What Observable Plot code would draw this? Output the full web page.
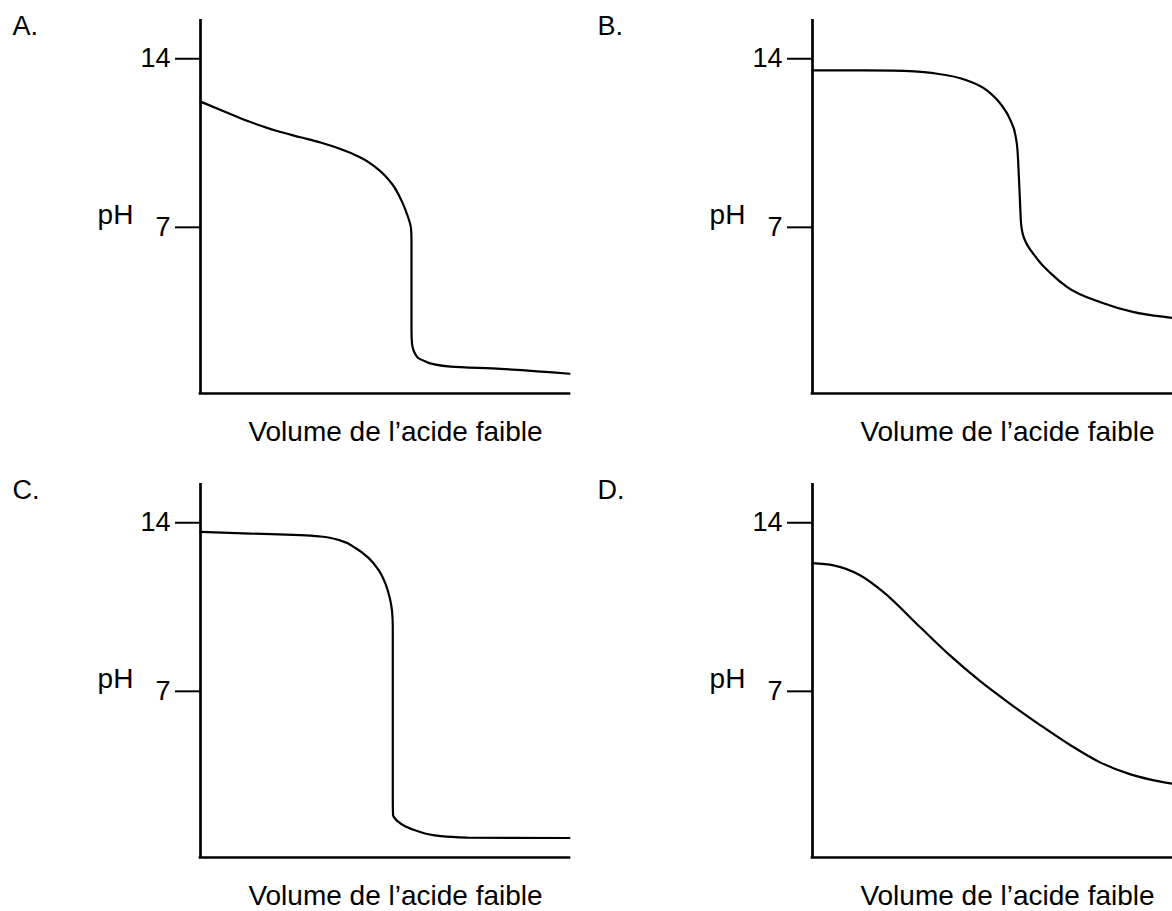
<!DOCTYPE html>
<html>
<head>
<meta charset="utf-8">
<script src="https://cdn.jsdelivr.net/npm/d3@7"></script>
<script src="https://cdn.jsdelivr.net/npm/@observablehq/plot@0.6"></script>
<style>
html, body { margin: 0; padding: 0; background: #fff; overflow: hidden; }
#wrap { position: relative; width: 1172px; height: 911px; overflow: hidden; background: #fff; }
.panel { position: absolute; width: 612px; height: 464px; }
</style>
</head>
<body>
<div id="wrap"></div>
<script>
// ---- texts ----
const panelLabels = ["A.", "B.", "C.", "D."];
const yTicks = [7, 14];
const yLabel = "pH";
const xLabel = "Volume de l\u2019acide faible";

// ---- series (volume in arbitrary units 0–100, pH) ----
const volA = [0, 6.78, 13.55, 20.33, 27.10, 32.52, 37.94, 43.36, 48.24, 52.03, 54.47, 56.10, 57.05, 57.18, 57.18, 57.32, 58.73, 60.98, 63.14, 67.75, 81.30, 100];
const phA  = [12.22, 11.79, 11.37, 11.02, 10.74, 10.52, 10.25, 9.90, 9.40, 8.78, 8.11, 7.49, 6.95, 6.45, 2.72, 2.18, 1.61, 1.43, 1.32, 1.22, 1.12, 0.92];

const volB = [0, 10.30, 21.95, 32.79, 41.92, 47.34, 50.95, 53.66, 55.01, 55.56, 56.10, 56.50, 56.78, 57.32, 58.27, 59.62, 61.79, 64.50, 69.02, 78.05, 87.07, 97.48, 100];
const phB  = [13.52, 13.52, 13.51, 13.40, 13.10, 12.68, 12.13, 11.44, 10.81, 10.19, 8.53, 7.20, 6.87, 6.56, 6.25, 5.95, 5.52, 5.10, 4.52, 3.89, 3.48, 3.24, 3.19];

const volC = [0, 13.55, 27.10, 32.52, 37.94, 42.01, 45.53, 48.24, 50.14, 51.36, 51.90, 52.11, 52.11, 52.17, 53.31, 55.56, 58.73, 65.04, 72.28, 100];
const phC  = [13.62, 13.55, 13.49, 13.43, 13.26, 12.95, 12.54, 12.04, 11.46, 10.83, 10.34, 9.71, 2.45, 1.89, 1.62, 1.39, 1.20, 0.99, 0.925, 0.91];

const volD = [0, 5.69, 13.01, 19.24, 29.27, 37.40, 45.53, 53.66, 61.79, 69.92, 78.05, 86.18, 94.31, 100];
const phD  = [12.32, 12.23, 11.81, 11.12, 9.65, 8.47, 7.41, 6.47, 5.59, 4.76, 4.04, 3.55, 3.25, 3.11];

// ---- layout ----
const FONT = "'Liberation Sans', Arial, Helvetica, sans-serif";
const FS = 27;
const FS_LABEL = 28;
const panels = [
  {label: panelLabels[0], vol: volA, ph: phA, curve: "monotone-y", left: 0,   top: 0,     labelDx: -188},
  {label: panelLabels[1], vol: volB, ph: phB, curve: "monotone-x", left: 612, top: 0,     labelDx: -215},
  {label: panelLabels[2], vol: volC, ph: phC, curve: "monotone-y", left: 0,   top: 463.5, labelDx: -188},
  {label: panelLabels[3], vol: volD, ph: phD, curve: "monotone-x", left: 612, top: 463.5, labelDx: -215}
];

const wrap = document.getElementById("wrap");
for (const p of panels) {
  const data = p.vol.map((v, i) => ({vol: v, ph: p.ph[i]}));
  const chart = Plot.plot({
    width: 612,
    height: 464,
    marginLeft: 200,
    marginRight: 43,
    marginTop: 19,
    marginBottom: 71,
    x: {domain: [0, 100], axis: null},
    y: {domain: [0.1, 15.63], axis: null},
    style: {maxWidth: "none", overflow: "visible", fontFamily: FONT, background: "white", color: "black"},
    marks: [
      Plot.axisY({ticks: yTicks, tickSize: 25, tickPadding: 5, fontSize: FS, strokeWidth: 2, label: null, anchor: "left"}),
      Plot.ruleX([0], {stroke: "black", strokeWidth: 2.7}),
      Plot.ruleY([0.1], {stroke: "black", strokeWidth: 2.7, strokeLinecap: "square"}),
      Plot.line(data, {x: "vol", y: "ph", curve: p.curve, stroke: "black", strokeWidth: 2.2}),
      Plot.text([yLabel], {y: () => yTicks[0], frameAnchor: "left", dx: -85, dy: -12, textAnchor: "middle", fontSize: FS_LABEL}),
      Plot.text([xLabel], {frameAnchor: "bottom", dx: 10.5, dy: 28, lineAnchor: "top", textAnchor: "middle", fontSize: FS_LABEL}),
      Plot.text([p.label], {frameAnchor: "top-left", dx: p.labelDx, dy: -4, lineAnchor: "top", textAnchor: "start", fontSize: FS})
    ]
  });
  const div = document.createElement("div");
  div.className = "panel";
  div.style.left = p.left + "px";
  div.style.top = p.top + "px";
  div.appendChild(chart);
  wrap.appendChild(div);
}
</script>
</body>
</html>
